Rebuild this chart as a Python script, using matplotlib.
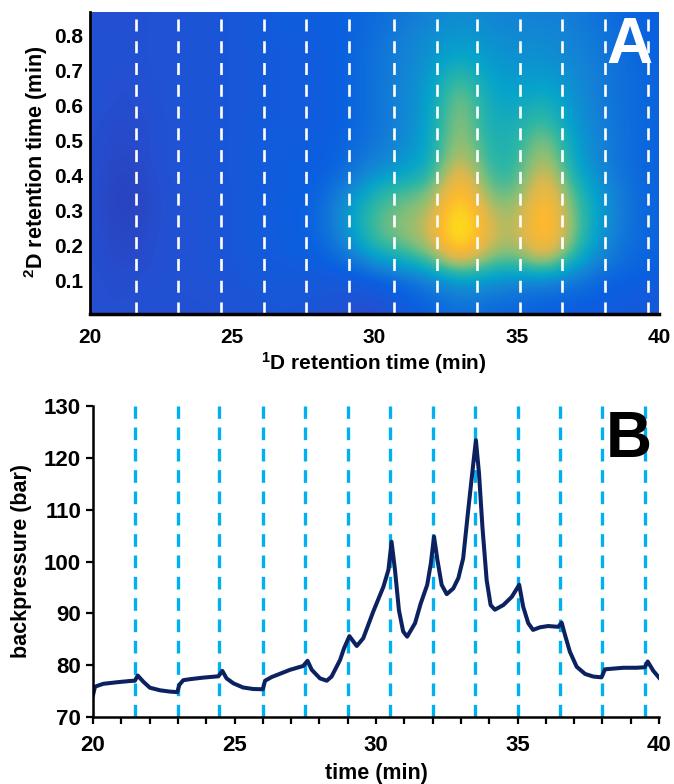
#!/usr/bin/env python3
import matplotlib
matplotlib.use("Agg")
import matplotlib.pyplot as plt
import numpy as np
from matplotlib.colors import LinearSegmentedColormap
from matplotlib.ticker import MultipleLocator

W, H = 674, 784

# Panel A: intensity (0-10), rows top to bottom, columns 20..40 min
rt1_grid = list(range(20, 41))
rt2_grid = [0.85, 0.80, 0.75, 0.70, 0.65, 0.60, 0.55, 0.50, 0.45,
            0.40, 0.35, 0.30, 0.25, 0.20, 0.15, 0.10, 0.05, 0.00]
intensity = [
    [1.0, 0.9, 1.1, 1.2, 1.3, 1.4, 1.6, 1.8, 1.8, 2.0, 2.3, 2.6, 3.0, 3.3, 3.1, 2.9, 2.9, 2.8, 2.4, 2.1, 1.9],
    [1.1, 1.0, 1.1, 1.2, 1.3, 1.4, 1.6, 1.8, 1.7, 2.0, 2.4, 2.8, 3.3, 3.6, 3.3, 3.1, 3.2, 2.9, 2.6, 2.2, 1.9],
    [1.1, 1.0, 1.1, 1.2, 1.3, 1.4, 1.6, 1.7, 1.7, 2.0, 2.5, 2.9, 3.4, 4.0, 3.5, 3.3, 3.3, 3.0, 2.6, 2.2, 1.9],
    [1.1, 0.9, 1.1, 1.2, 1.3, 1.4, 1.6, 1.7, 1.7, 2.0, 2.5, 2.9, 3.6, 4.8, 3.7, 3.5, 3.6, 3.2, 2.7, 2.3, 2.0],
    [1.1, 0.9, 1.0, 1.2, 1.3, 1.4, 1.6, 1.7, 1.7, 2.0, 2.5, 3.0, 3.7, 5.7, 3.9, 3.7, 4.0, 3.3, 2.7, 2.3, 2.0],
    [1.1, 0.9, 1.0, 1.2, 1.3, 1.4, 1.6, 1.7, 1.7, 2.0, 2.5, 3.0, 3.8, 6.2, 4.1, 4.0, 4.7, 3.4, 2.7, 2.3, 2.0],
    [1.0, 0.8, 0.9, 1.2, 1.3, 1.4, 1.6, 1.7, 1.7, 2.0, 2.5, 3.0, 3.9, 6.4, 4.2, 4.3, 5.3, 3.5, 2.8, 2.3, 2.0],
    [1.0, 0.8, 0.9, 1.2, 1.3, 1.4, 1.7, 1.8, 1.8, 2.1, 2.6, 3.1, 4.0, 6.6, 4.4, 4.5, 6.2, 3.7, 2.9, 2.3, 2.0],
    [1.0, 0.7, 0.9, 1.2, 1.3, 1.4, 1.7, 1.8, 1.8, 2.2, 2.8, 3.4, 4.1, 7.1, 4.6, 4.6, 6.8, 3.9, 2.9, 2.3, 2.0],
    [1.0, 0.7, 0.8, 1.2, 1.3, 1.4, 1.7, 1.8, 1.9, 2.4, 3.5, 4.0, 4.6, 8.0, 4.9, 4.8, 7.6, 4.3, 3.1, 2.3, 2.0],
    [1.0, 0.6, 0.8, 1.1, 1.2, 1.4, 1.7, 1.8, 2.0, 3.0, 4.5, 5.2, 5.5, 8.8, 5.5, 5.3, 8.2, 5.0, 3.4, 2.4, 2.0],
    [1.0, 0.6, 0.8, 1.1, 1.2, 1.4, 1.7, 1.8, 2.1, 3.4, 5.1, 5.7, 6.2, 9.5, 6.3, 5.9, 8.7, 5.4, 3.5, 2.4, 2.0],
    [1.0, 0.7, 0.8, 1.1, 1.2, 1.4, 1.7, 1.8, 2.1, 3.3, 5.3, 5.9, 6.6, 10.0, 6.7, 6.1, 8.8, 5.6, 3.4, 2.4, 2.0],
    [1.0, 0.7, 0.9, 1.1, 1.2, 1.4, 1.7, 1.8, 2.0, 2.9, 4.7, 5.4, 6.2, 9.2, 6.5, 5.9, 8.3, 5.2, 3.1, 2.3, 2.0],
    [1.0, 0.8, 0.9, 1.1, 1.2, 1.4, 1.6, 1.7, 1.8, 2.2, 3.2, 3.9, 4.8, 6.8, 5.2, 4.8, 6.2, 4.0, 2.7, 2.2, 1.9],
    [1.0, 0.9, 1.0, 1.1, 1.2, 1.3, 1.5, 1.6, 1.5, 1.6, 1.9, 2.3, 2.9, 3.8, 3.5, 3.1, 3.1, 2.7, 2.1, 1.9, 1.8],
    [1.0, 0.9, 1.0, 1.1, 1.1, 1.2, 1.4, 1.5, 1.4, 1.3, 1.2, 1.9, 2.3, 2.8, 2.6, 2.4, 2.2, 2.1, 1.9, 1.7, 1.6],
    [1.0, 1.0, 1.0, 1.0, 1.0, 1.2, 1.3, 1.4, 1.2, 0.9, 0.7, 1.5, 2.0, 2.4, 2.2, 2.0, 1.9, 1.8, 1.7, 1.6, 1.5],
]
dashes_a = [21.6, 23.1, 24.6, 26.1, 27.6, 29.1, 30.7, 32.2, 33.6, 35.1, 36.6, 38.1, 39.6]
ticks_a_x = [20, 25, 30, 35, 40]
ticks_a_y = [0.1, 0.2, 0.3, 0.4, 0.5, 0.6, 0.7, 0.8]

# Panel B: backpressure trace
time_min = [20.0, 20.07, 20.36, 20.84, 21.31, 21.48, 21.58, 21.78, 22.01, 22.37, 22.72, 22.98,
            23.05, 23.19, 23.43, 23.9, 24.43, 24.57, 24.72, 24.96, 25.3, 25.66, 26.0, 26.08,
            26.31, 26.96, 27.43, 27.58, 27.73, 28.02, 28.26, 28.43, 28.73, 28.87, 29.06, 29.32,
            29.55, 29.9, 30.26, 30.44, 30.55, 30.67, 30.81, 30.96, 31.1, 31.38, 31.58, 31.81,
            31.94, 32.05, 32.17, 32.32, 32.5, 32.73, 32.91, 33.08, 33.26, 33.44, 33.53, 33.64,
            33.76, 33.91, 34.05, 34.2, 34.5, 34.8, 35.06, 35.2, 35.38, 35.55, 35.79, 36.08,
            36.44, 36.56, 36.68, 36.85, 37.09, 37.39, 37.68, 37.97, 38.09, 38.74, 39.2, 39.5,
            39.6, 39.8, 40.0]
backpressure = [74.2, 75.85, 76.4, 76.7, 76.95, 77.0, 78.0, 76.8, 75.65, 75.15, 74.9, 74.8,
                76.2, 77.1, 77.3, 77.6, 77.85, 78.9, 77.45, 76.5, 75.7, 75.4, 75.35, 77.0,
                77.7, 79.1, 79.85, 80.85, 79.1, 77.45, 77.0, 77.8, 81.0, 83.25, 85.6, 83.7,
                85.2, 90.3, 95.1, 98.4, 103.8, 98.4, 90.6, 86.5, 85.5, 88.1, 91.9, 95.5,
                99.7, 104.8, 100.3, 95.5, 93.7, 94.8, 96.8, 100.6, 110.0, 119.0, 123.4, 117.0,
                106.7, 96.4, 91.6, 90.7, 91.6, 93.2, 95.5, 91.3, 88.1, 86.8, 87.3, 87.55,
                87.4, 88.2, 85.8, 82.6, 79.7, 78.3, 77.8, 77.65, 79.2, 79.5, 79.5, 79.6,
                80.7, 78.9, 77.6]
dashes_b = [21.5, 23.0, 24.45, 26.0, 27.5, 29.0, 30.5, 32.0, 33.5, 35.0, 36.5, 38.0, 39.5]
ticks_b_x = [20, 25, 30, 35, 40]
ticks_b_y = [70, 80, 90, 100, 110, 120, 130]

plt.rcParams["font.family"] = ["Liberation Sans", "DejaVu Sans"]
plt.rcParams["font.weight"] = "bold"
plt.rcParams["mathtext.fontset"] = "custom"
plt.rcParams["mathtext.bf"] = "Liberation Sans:bold"
plt.rcParams["mathtext.rm"] = "Liberation Sans:bold"

cmap = LinearSegmentedColormap.from_list("parula_like", [
    "#352a9a", "#2450d2", "#0a60e0", "#1481d6", "#06a4ca", "#2eb7a4",
    "#87bf77", "#d8b850", "#fdb92f", "#fcd81c", "#f4fb0e",
])


def px_axes(fig, left, top, right, bottom):
    return fig.add_axes([left / W, 1 - bottom / H, (right - left) / W, (bottom - top) / H])


fig = plt.figure(figsize=(W / 100, H / 100), dpi=100, facecolor="white")

# Panel A
ax = px_axes(fig, 90, 12, 659, 314)
dx = rt1_grid[1] - rt1_grid[0]
dy = rt2_grid[0] - rt2_grid[1]
ax.imshow(np.array(intensity), cmap=cmap, vmin=0, vmax=9.7, aspect="auto", interpolation="bicubic",
          extent=(rt1_grid[0] - dx / 2, rt1_grid[-1] + dx / 2, rt2_grid[-1] - dy / 2, rt2_grid[0] + dy / 2))
ax.vlines(dashes_a, 0.005, 0.866, color="white", lw=1.9, linestyles=(0, (4.55, 3.7)))
ax.set_xlim(20, 40)
ax.set_ylim(0.005, 0.866)
ax.set_xticks(ticks_a_x)
ax.set_yticks(ticks_a_y)
ax.tick_params(length=0, labelsize=15, pad=5)
ax.tick_params(axis="x", pad=10)
ax.spines["top"].set_visible(False)
ax.spines["right"].set_visible(False)
ax.spines["left"].set_linewidth(2)
ax.spines["bottom"].set_linewidth(2.5)
fig.text(374 / W, 1 - 363 / H, r"$\mathbf{^{1}}$D retention time (min)", ha="center", va="center", fontsize=15)
fig.text(36 / W, 1 - 162 / H, r"$\mathbf{^{2}}$D retention time (min)", ha="center", va="center",
         rotation=90, fontsize=15.5)
ax.text(629 / W, 1 - 46 / H, "A", transform=fig.transFigure, color="white", fontsize=46,
        ha="center", va="center")

# Panel B
ax2 = px_axes(fig, 93, 406, 659, 717)
ax2.vlines(dashes_b, 70, 130, color="#00b0f0", lw=2.4, linestyles=(0, (3.8, 2.6)))
ax2.plot(time_min, backpressure, color="#0c2260", lw=2.9, solid_joinstyle="round")
ax2.set_xlim(20, 40)
ax2.set_ylim(70, 130)
ax2.set_xticks(ticks_b_x)
ax2.set_yticks(ticks_b_y)
ax2.xaxis.set_minor_locator(MultipleLocator(1))
ax2.tick_params(which="both", direction="out", width=1.6, length=5, labelsize=16)
ax2.tick_params(axis="x", pad=8)
ax2.patch.set_alpha(0)
ax2.spines["top"].set_visible(False)
ax2.spines["right"].set_visible(False)
ax2.spines["left"].set_linewidth(1.8)
ax2.spines["bottom"].set_linewidth(1.8)
fig.text(376 / W, 1 - 773 / H, "time (min)", ha="center", va="center", fontsize=15.5)
fig.text(22 / W, 1 - 561 / H, "backpressure (bar)", ha="center", va="center", rotation=90, fontsize=15.5)
ax2.text(629 / W, 1 - 440 / H, "B", transform=fig.transFigure, color="black", fontsize=46,
         ha="center", va="center")

fig.savefig("out.png", dpi=100)
